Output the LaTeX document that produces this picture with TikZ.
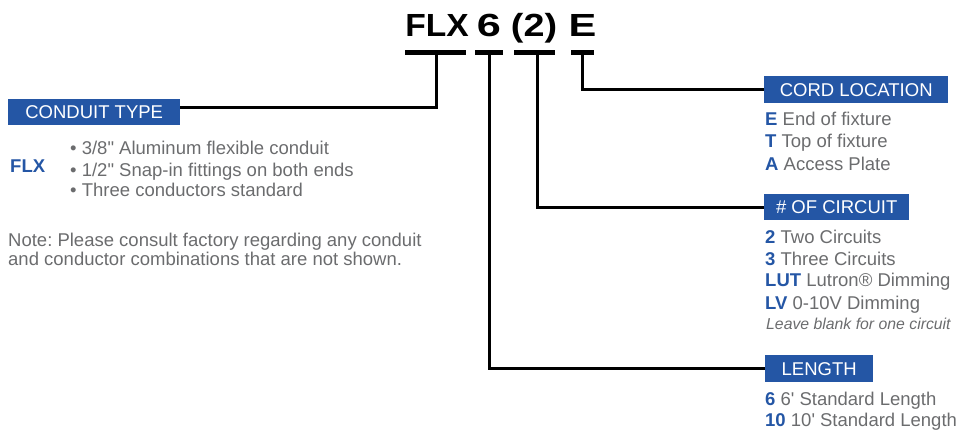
\documentclass[tikz,border=0pt]{standalone}
\usepackage{fontspec}
\setmainfont{Liberation Sans}
\frenchspacing
\definecolor{codeblue}{HTML}{2456A5}
\definecolor{txtgray}{HTML}{6B6C6E}
\begin{document}
\begin{tikzpicture}[x=1pt,y=-1pt,
  ttl/.style={font=\fontsize{32}{32}\selectfont\bfseries, anchor=base, inner sep=0},
  bar/.style={fill=black, draw=none, inner sep=0, minimum height=5pt, anchor=north west},
  conn/.style={line width=3pt},
  lab/.style={fill=codeblue, text=white, font=\fontsize{18.5}{20}\selectfont, inner sep=0, anchor=north west, align=center},
  body/.style={text=txtgray, font=\fontsize{18.5}{20}\selectfont, anchor=base west, inner sep=0},
  small/.style={text=txtgray, font=\fontsize{15.8}{18}\selectfont\itshape, anchor=base west, inner sep=0},
  code/.style={text=codeblue, font=\fontsize{18.5}{20}\selectfont\bfseries, anchor=base west, inner sep=0}
  ]
\useasboundingbox (0,0) rectangle (960,431);

% title
\node[ttl] (tflx) at (437,36.7) {\scalebox{1.05}[1]{FLX}};
\node[ttl] (tsix) at (489,36.7) {\scalebox{1.35}[1]{6}};
\node[ttl] (ttwo) at (534,36.7) {\scalebox{1.18}[1]{(2)}};
\node[ttl] (te) at (582.5,36.7) {\scalebox{1.3}[1]{E}};

% bars
\node[bar, minimum width=61pt] (b1) at (405,50) {};
\node[bar, minimum width=28pt] (b2) at (475,50) {};
\node[bar, minimum width=41pt] (b3) at (514,50) {};
\node[bar, minimum width=23pt] (b4) at (571,50) {};

% label boxes
\node[lab, minimum width=172pt, minimum height=26pt] (ct) at (8,99) {CONDUIT TYPE};
\node[lab, minimum width=184pt, minimum height=27pt] (cl) at (764,76) {CORD LOCATION};
\node[lab, minimum width=145pt, minimum height=26pt] (oc) at (764,194) {\# OF CIRCUIT};
\node[lab, minimum width=108pt, minimum height=27pt] (ln) at (765,355) {LENGTH};

% connectors
\draw[conn] ([xshift=1.2pt]b1.south) |- ([yshift=5pt]ct.east);
\draw[conn] (b2.south) |- (ln.west);
\draw[conn] ([xshift=3pt]b3.south) |- (oc.west);
\draw[conn] (b4.south) |- (cl.west);

% conduit type
\node[code] (flx) at (10,172.7) {FLX};
\node[body] (c1) at (70,154) {• 3/8\textquotedbl{} Aluminum flexible conduit};
\node[body] (c2) at (70,176) {• 1/2\textquotedbl{} Snap-in fittings on both ends};
\node[body] (c3) at (70,196.7) {• Three conductors standard};
\node[body] (n1) at (8,246) {Note: Please consult factory regarding any conduit};
\node[body] (n2) at (8,265.5) {and conductor combinations that are not shown.};

% cord location
\node[body] (e) at (765,125) {\textcolor{codeblue}{\bfseries E} End of fixture};
\node[body] (t) at (765,147.5) {\textcolor{codeblue}{\bfseries T} Top of fixture};
\node[body] (a) at (765,170) {\textcolor{codeblue}{\bfseries A} Access Plate};

% circuits
\node[body] (k2) at (765,243.3) {\textcolor{codeblue}{\bfseries 2} Two Circuits};
\node[body] (k3) at (765,265) {\textcolor{codeblue}{\bfseries 3} Three Circuits};
\node[body] (klut) at (765,286.7) {\textcolor{codeblue}{\bfseries LUT} Lutron® Dimming};
\node[body] (klv) at (765,309.3) {\textcolor{codeblue}{\bfseries LV} 0-10V Dimming};
\node[small] (kb) at (766,329.3) {Leave blank for one circuit};

% length
\node[body] (l6) at (765,405) {\textcolor{codeblue}{\bfseries 6} 6\textquotesingle{} Standard Length};
\node[body] (l10) at (765,426) {\textcolor{codeblue}{\bfseries 10} 10\textquotesingle{} Standard Length};
\end{tikzpicture}
\end{document}
